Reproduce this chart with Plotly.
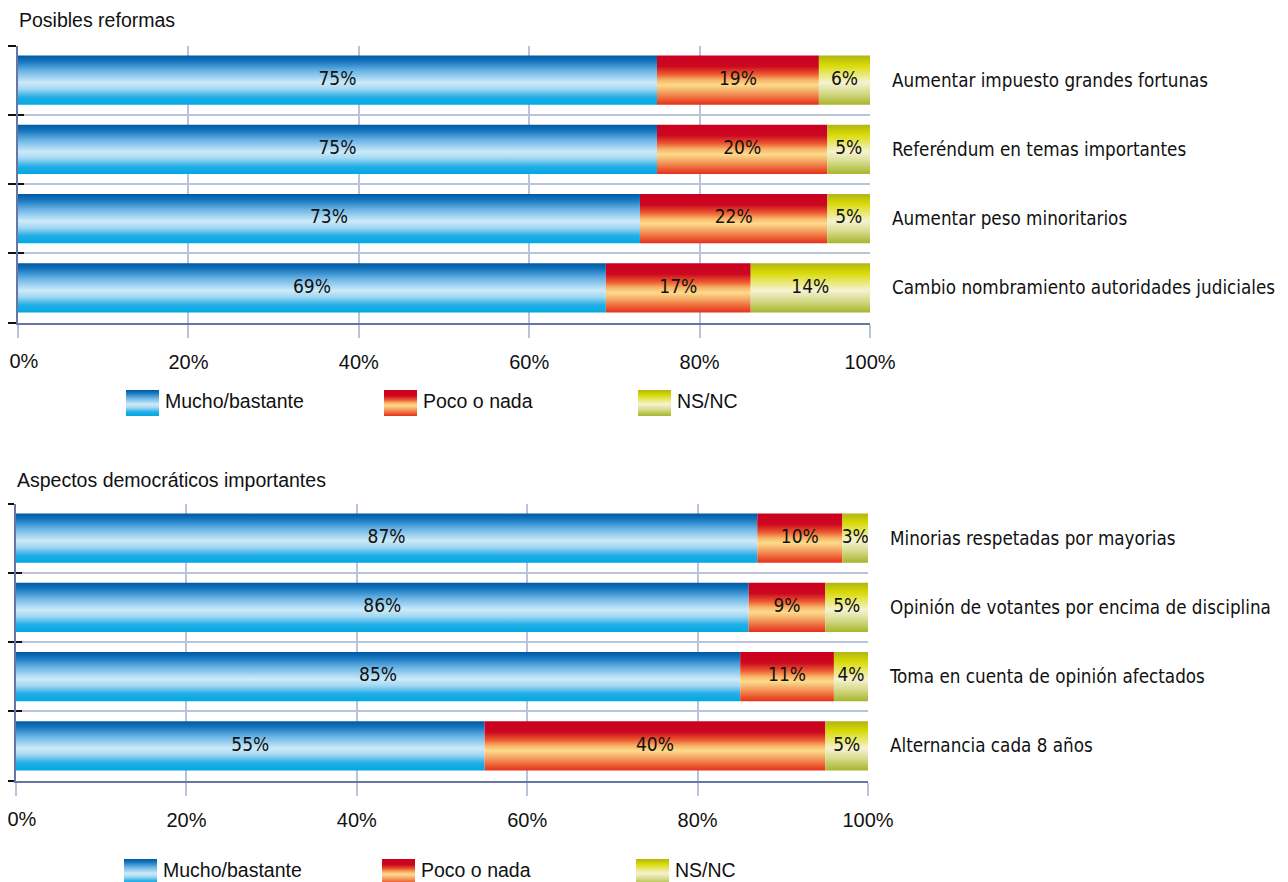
import plotly.graph_objects as go

# ---------------- data ----------------
series_names = ["Mucho/bastante", "Poco o nada", "NS/NC"]

panel1_title = "Posibles reformas"
panel1_categories = [
    "Aumentar impuesto grandes fortunas",
    "Referéndum en temas importantes",
    "Aumentar peso minoritarios",
    "Cambio nombramiento autoridades judiciales",
]
panel1_mucho = [75, 75, 73, 69]
panel1_poco = [19, 20, 22, 17]
panel1_nsnc = [6, 5, 5, 14]

panel2_title = "Aspectos democráticos importantes"
panel2_categories = [
    "Minorias respetadas por mayorias",
    "Opinión de votantes por encima de disciplina",
    "Toma en cuenta de opinión afectados",
    "Alternancia cada 8 años",
]
panel2_mucho = [87, 86, 85, 55]
panel2_poco = [10, 9, 11, 40]
panel2_nsnc = [3, 5, 4, 5]

x_tickvals = [0, 20, 40, 60, 80, 100]
x_ticktext = ["0%", "20%", "40%", "60%", "80%", "100%"]

# ---------------- style ----------------
PAGE_W, PAGE_H = 1288, 882
OFF = 8  # default page margin around the figure div
W, H = PAGE_W - OFF, PAGE_H - OFF
REG = "Liberation Sans, Arial, Helvetica, sans-serif"
COND = "Liberation Sans Narrow, Arial Narrow, DejaVu Sans Condensed, sans-serif"
GRID = "#b9c4dc"
AXIS = "#6677a3"
BAR_HALF = 0.355
TICKFONT = dict(family=REG, size=20, color="#111111")

SCALES = [
    [[0.0, "#0058a2"], [0.12, "#1676bf"], [0.32, "#6db6e6"], [0.55, "#cdeaf9"],
     [0.68, "#a4d8f3"], [0.85, "#22ade6"], [1.0, "#00a9e2"]],
    [[0.0, "#c9001f"], [0.22, "#cc0820"], [0.38, "#ec5a30"], [0.5, "#f9b468"],
     [0.6, "#fcdc8c"], [0.75, "#f4a060"], [0.9, "#ec5a30"], [1.0, "#e6301f"]],
    [[0.0, "#b0b418"], [0.18, "#d6d800"], [0.35, "#e6e65e"], [0.55, "#f6f2d2"],
     [0.75, "#d8dc90"], [1.0, "#a8b52c"]],
]


def px_x(px):
    return (px - OFF) / W


def px_y(px):
    return 1 - (px - OFF) / H


fig = go.Figure()


def add_panel(n, cats, s1, s2, s3, xdom, ytop, ybot, title, title_x, title_y,
              leg_lefts, leg_top, leg_bot):
    xa = "x" if n == 0 else "x2"
    xa0 = "x5" if n == 0 else "x6"      # carries the left-aligned "0%" label
    ya = "y" if n == 0 else "y4"
    ya_lab = "y2" if n == 0 else "y5"
    ya_in = "y3" if n == 0 else "y6"
    xl = "x3" if n == 0 else "x4"
    yl = "y7" if n == 0 else "y8"
    vals = [s1, s2, s3]
    idx = list(range(len(cats)))
    for si, series in enumerate(vals):
        base = [sum(v[i] for v in vals[:si]) for i in idx]
        for i in idx:
            x0 = base[i]
            x1 = base[i] + series[i]
            y0 = i - BAR_HALF
            y1 = i + BAR_HALF
            fig.add_trace(go.Scatter(
                x=[x0, x1, x1, x0, x0], y=[y0, y0, y1, y1, y0],
                xaxis=xa, yaxis=ya, mode="none", fill="toself",
                fillgradient=dict(type="vertical", colorscale=SCALES[si],
                                  start=y0, stop=y1),
                name=series_names[si], showlegend=False,
                hoverinfo="text",
                text=f"{cats[i]}<br>{series_names[si]}: {series[i]}%",
            ))
        centers = [base[i] + series[i] / 2 for i in idx]
        fig.add_trace(go.Scatter(
            x=centers, y=idx, xaxis=xa, yaxis=ya_lab, mode="text",
            text=[f"{v}%" for v in series], textposition="middle center",
            textfont=dict(family=COND, size=19, color="#111111"),
            showlegend=False, hoverinfo="skip",
        ))
    fig.add_trace(go.Scatter(x=[None], y=[None], xaxis=xa, yaxis=ya_in,
                             showlegend=False, hoverinfo="skip"))
    fig.add_trace(go.Scatter(x=[None], y=[None], xaxis=xa0, yaxis=ya,
                             showlegend=False, hoverinfo="skip"))

    ydom = [px_y(ybot), px_y(ytop)]
    yrange = [len(cats) - 0.5, -0.5]
    bounds = [i - 0.5 for i in range(len(cats) + 1)]
    fig.layout["xaxis" if n == 0 else "xaxis2"] = dict(
        domain=xdom, range=[0, 100], anchor=ya, tickvals=x_tickvals,
        ticktext=[""] + x_ticktext[1:], showgrid=True, gridcolor=GRID,
        gridwidth=1.5, ticks="outside", ticklen=13, tickcolor=GRID,
        tickwidth=1.5, showline=True, linecolor=AXIS, linewidth=2,
        zeroline=False, tickfont=TICKFONT, ticklabelstandoff=7,
        ticklabeloverflow="allow", fixedrange=True, automargin=False,
    )
    fig.layout["xaxis5" if n == 0 else "xaxis6"] = dict(
        overlaying=xa, anchor=ya, side="bottom", range=[0, 100],
        tickvals=x_tickvals[:1], ticktext=x_ticktext[:1],
        ticklabelposition="outside right", ticklabelshift=-9,
        ticks="outside", ticklen=13, tickcolor="rgba(0,0,0,0)",
        ticklabelstandoff=20, showgrid=False, showline=False, zeroline=False,
        tickfont=TICKFONT, ticklabeloverflow="allow",
        fixedrange=True, automargin=False,
    )
    fig.layout["yaxis" if n == 0 else "yaxis4"] = dict(
        domain=ydom, range=yrange, anchor=xa, tickvals=bounds,
        showticklabels=False, showgrid=True, gridcolor=GRID, gridwidth=1.5,
        ticks="outside", ticklen=8, tickcolor="#111111", tickwidth=1.5,
        showline=True, linecolor=AXIS, linewidth=2, zeroline=False,
        fixedrange=True, automargin=False,
    )
    fig.layout["yaxis2" if n == 0 else "yaxis5"] = dict(
        overlaying=ya, anchor=xa, side="right", range=yrange,
        tickvals=idx, ticktext=cats, showgrid=False, ticks="",
        showline=False, zeroline=False, ticklabelstandoff=21,
        ticklabeloverflow="allow",
        tickfont=dict(family=COND, size=18.7, color="#111111"),
        fixedrange=True, automargin=False,
    )
    fig.layout["yaxis3" if n == 0 else "yaxis6"] = dict(
        overlaying=ya, anchor=xa, side="left", range=yrange,
        tickvals=bounds, showticklabels=False, showgrid=False,
        ticks="inside", ticklen=6, tickcolor="#111111", tickwidth=1.5,
        showline=False, zeroline=False, fixedrange=True, automargin=False,
    )

    fig.add_annotation(text=title, xref="paper", yref="paper",
                       x=px_x(title_x), y=px_y(title_y), xanchor="left",
                       yanchor="middle", showarrow=False,
                       font=dict(family=REG, size=19.5, color="#111111"))

    # legend row: own axes, x range in pixels along the row
    sw_h = leg_bot - leg_top
    dom_bot = min(leg_bot, PAGE_H)
    fig.layout["xaxis3" if n == 0 else "xaxis4"] = dict(
        domain=[0, 1], range=[OFF, PAGE_W], anchor=yl, visible=False,
        fixedrange=True, automargin=False)
    fig.layout["yaxis7" if n == 0 else "yaxis8"] = dict(
        domain=[px_y(dom_bot), px_y(leg_top)],
        range=[(dom_bot - leg_top) / sw_h, 0], anchor=xl,
        visible=False, fixedrange=True, automargin=False)
    for si, name in enumerate(series_names):
        L = leg_lefts[si]
        fig.add_trace(go.Scatter(
            x=[L, L + 33, L + 33, L, L], y=[0, 0, 1, 1, 0],
            xaxis=xl, yaxis=yl, mode="none", fill="toself",
            fillgradient=dict(type="vertical", colorscale=SCALES[si],
                              start=0, stop=1),
            showlegend=False, hoverinfo="skip",
        ))
        fig.add_trace(go.Scatter(
            x=[L + 39], y=[0.5], xaxis=xl, yaxis=yl, mode="text",
            text=[name], textposition="middle right", cliponaxis=False,
            textfont=dict(family=REG, size=19.5, color="#111111"),
            showlegend=False, hoverinfo="skip",
        ))


add_panel(0, panel1_categories, panel1_mucho, panel1_poco, panel1_nsnc,
          [px_x(18), px_x(870)], 45.5, 322.5, panel1_title, 17, 20,
          [126, 384, 638], 390, 416)
add_panel(1, panel2_categories, panel2_mucho, panel2_poco, panel2_nsnc,
          [px_x(16), px_x(868)], 503.5, 780.5, panel2_title, 15, 480,
          [124, 382, 636], 859, 885)

fig.update_layout(
    width=W, height=H, autosize=False,
    margin=dict(l=0, r=0, t=0, b=0, autoexpand=False),
    paper_bgcolor="white", plot_bgcolor="white",
    showlegend=False,
)

fig.write_html("out.html")
